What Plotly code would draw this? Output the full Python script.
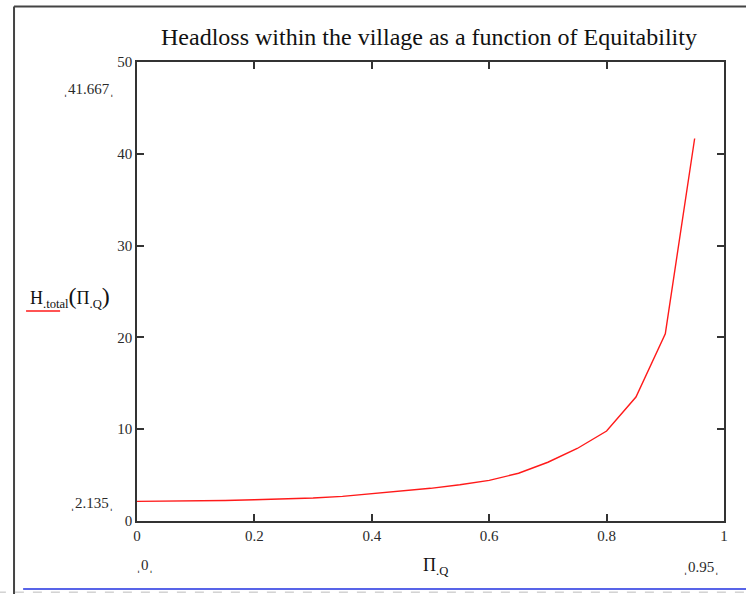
import plotly.graph_objects as go

# Data
pi_q = [0.0, 0.05, 0.1, 0.15, 0.2, 0.25, 0.3, 0.35, 0.4, 0.45,
        0.5, 0.55, 0.6, 0.65, 0.7, 0.75, 0.8, 0.85, 0.9, 0.95]
h_total = [2.135, 2.15, 2.19, 2.24, 2.31, 2.39, 2.5, 2.68, 2.95, 3.25,
           3.56, 3.95, 4.42, 5.2, 6.4, 7.9, 9.8, 13.5, 20.4, 41.667]
x_ticks = [0, 0.2, 0.4, 0.6, 0.8, 1]
x_tick_text = ["0", "0.2", "0.4", "0.6", "0.8", "1"]
y_ticks = [0, 10, 20, 30, 40, 50]
y_tick_text = ["0", "10", "20", "30", "40", "50"]

title_text = "Headloss within the village as a function of Equitability"
SERIF = "Liberation Serif, Times New Roman, serif"
TXT = "#2a2a2a"

fig = go.Figure()
fig.add_trace(go.Scatter(x=pi_q, y=h_total, mode="lines",
                         line=dict(color="#ff1a1a", width=1.4),
                         showlegend=False, hoverinfo="skip"))

axis_common = dict(showgrid=False, zeroline=False, showline=True,
                   linecolor="#333333", linewidth=1.5, mirror="ticks",
                   ticks="inside", ticklen=7, tickwidth=1.5, tickcolor="#333333",
                   tickfont=dict(family=SERIF, size=15, color=TXT))
fig.update_xaxes(range=[0, 1], tickvals=x_ticks, ticktext=x_tick_text, **axis_common)
fig.update_yaxes(range=[0, 50], tickvals=y_ticks, ticktext=y_tick_text, **axis_common)

mark = "\u02cc"
annotations = [
    dict(xref="paper", yref="paper", x=0.497, y=1.054, text=title_text, showarrow=False,
         font=dict(family=SERIF, size=24, color="#111111"), xanchor="center", yanchor="middle"),
    dict(xref="paper", x=-0.036, yref="y", y=h_total[-1] + 5.4,
         text=mark + f"{h_total[-1]:.3f}" + mark, showarrow=False,
         font=dict(family=SERIF, size=15, color=TXT), xanchor="right", yanchor="middle"),
    dict(xref="paper", x=-0.036, yref="y", y=h_total[0] - 0.17,
         text=mark + f"{h_total[0]:.3f}" + mark, showarrow=False,
         font=dict(family=SERIF, size=15, color=TXT), xanchor="right", yanchor="middle"),
    dict(xref="x", x=pi_q[0] + 0.0143, yref="paper", y=-0.096,
         text=mark + "0" + mark, showarrow=False,
         font=dict(family=SERIF, size=15, color=TXT), xanchor="center", yanchor="middle"),
    dict(xref="x", x=pi_q[-1] + 0.0116, yref="paper", y=-0.1,
         text=mark + f"{pi_q[-1]:.2f}" + mark, showarrow=False,
         font=dict(family=SERIF, size=15, color=TXT), xanchor="center", yanchor="middle"),
    dict(xref="paper", x=0.508, yref="paper", y=-0.1,
         text="\u03a0<sub>.Q</sub>", showarrow=False,
         font=dict(family=SERIF, size=18, color="#111111"), xanchor="center", yanchor="middle"),
    dict(xref="paper", x=-0.1857, yref="paper", y=0.488,
         text="H<sub>.total</sub><span style='font-size:24px'>(</span>\u03a0<sub>.Q</sub><span style='font-size:24px'>)</span>",
         showarrow=False,
         font=dict(family=SERIF, size=18, color="#111111"), xanchor="left", yanchor="middle"),
]

shapes = [
    # outer frame: top edge and left edge
    dict(type="line", xref="paper", yref="paper", x0=-0.2095, x1=1.2, y0=1.121, y1=1.121,
         line=dict(color="#444444", width=2), layer="below"),
    dict(type="line", xref="paper", yref="paper", x0=-0.2095, x1=-0.2095, y0=-0.3, y1=1.121,
         line=dict(color="#444444", width=2), layer="below"),
    # legend line sample
    dict(type="line", xref="paper", yref="paper", x0=-0.189, x1=-0.131, y0=0.4575, y1=0.4575,
         line=dict(color="#ff1a1a", width=1.4)),
    # blue line at bottom
    dict(type="line", xref="paper", yref="paper", x0=-0.194, x1=1.2, y0=-0.148, y1=-0.148,
         line=dict(color="#2030e0", width=1.5)),
    dict(type="line", xref="paper", yref="paper", x0=-0.3, x1=1.2, y0=-0.155, y1=-0.155,
         line=dict(color="#bbbbbb", width=1, dash="dash")),
]

fig.update_layout(
    width=746, height=594,
    margin=dict(l=137, r=22, t=62, b=73),
    paper_bgcolor="white", plot_bgcolor="white",
    annotations=annotations, shapes=shapes,
    showlegend=False,
)

fig.write_html("out.html", config={"displayModeBar": False},
               post_script="document.body.style.margin='0';document.body.style.overflow='hidden';")
